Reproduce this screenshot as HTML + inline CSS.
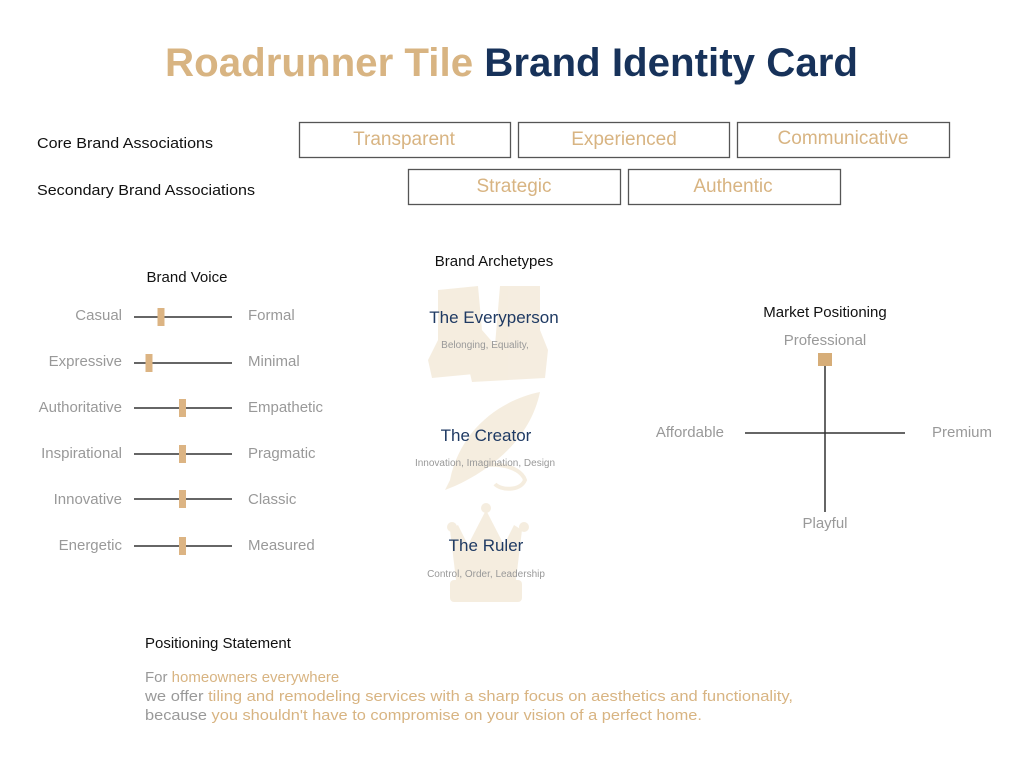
<!DOCTYPE html>
<html><head><meta charset="utf-8"><style>
html,body{margin:0;padding:0;background:#fff}
svg{display:block}
text{font-family:"Liberation Sans",sans-serif}
</style></head><body>
<svg width="1024" height="776" viewBox="0 0 1024 776" xmlns="http://www.w3.org/2000/svg">
<text x="165" y="76" font-size="40" font-weight="bold" textLength="693" lengthAdjust="spacingAndGlyphs"><tspan fill="#d8b482">Roadrunner Tile </tspan><tspan fill="#17325a">Brand Identity Card</tspan></text>

<text x="37" y="148" font-size="15" fill="#111" textLength="176" lengthAdjust="spacingAndGlyphs">Core Brand Associations</text>
<text x="37" y="195" font-size="15" fill="#111" textLength="218" lengthAdjust="spacingAndGlyphs">Secondary Brand Associations</text>
<g fill="none" stroke="#555" stroke-width="1.3">
<rect x="299.5" y="122.5" width="211" height="35"/>
<rect x="518.5" y="122.5" width="211" height="35"/>
<rect x="737.5" y="122.5" width="212" height="35"/>
<rect x="408.5" y="169.5" width="212" height="35"/>
<rect x="628.5" y="169.5" width="212" height="35"/>
</g>
<g fill="#d8b482" font-size="19" text-anchor="middle">
<text x="404" y="145">Transparent</text>
<text x="624" y="145">Experienced</text>
<text x="843" y="144">Communicative</text>
<text x="514" y="192">Strategic</text>
<text x="733" y="192">Authentic</text>
</g>

<text x="187" y="282" font-size="15" fill="#111" text-anchor="middle">Brand Voice</text>
<g font-size="15" fill="#999">
<g text-anchor="end">
<text x="122" y="320">Casual</text>
<text x="122" y="366">Expressive</text>
<text x="122" y="412">Authoritative</text>
<text x="122" y="458">Inspirational</text>
<text x="122" y="504">Innovative</text>
<text x="122" y="550">Energetic</text>
</g>
<text x="248" y="320">Formal</text>
<text x="248" y="366">Minimal</text>
<text x="248" y="412">Empathetic</text>
<text x="248" y="458">Pragmatic</text>
<text x="248" y="504">Classic</text>
<text x="248" y="550">Measured</text>
</g>
<g stroke="#333" stroke-width="1.5">
<line x1="134" y1="317" x2="232" y2="317"/>
<line x1="134" y1="363" x2="232" y2="363"/>
<line x1="134" y1="408" x2="232" y2="408"/>
<line x1="134" y1="454" x2="232" y2="454"/>
<line x1="134" y1="499" x2="232" y2="499"/>
<line x1="134" y1="546" x2="232" y2="546"/>
</g>
<g fill="#dcb483">
<rect x="157.5" y="308" width="7" height="18"/>
<rect x="145.5" y="354" width="7" height="18"/>
<rect x="179" y="399" width="7" height="18"/>
<rect x="179" y="445" width="7" height="18"/>
<rect x="179" y="490" width="7" height="18"/>
<rect x="179" y="537" width="7" height="18"/>
</g>

<text x="494" y="266" font-size="15" fill="#111" text-anchor="middle">Brand Archetypes</text>
<g fill="#f0e4cf" opacity="0.65">
<path d="M438 290 L478 286 L482 330 L495 345 L495 372 L432 378 L428 360 L438 340 Z"/>
<path d="M500 286 L540 286 L540 330 L548 350 L545 378 L472 382 L468 365 L495 345 Z"/>
<path d="M540 392 C500 400 460 430 450 480 L445 490 L455 486 C490 470 530 440 540 392 Z"/>
<path d="M470 470 C490 460 520 465 525 480 C520 492 500 490 495 484" fill="none" stroke="#f0e4cf" stroke-width="4"/>
<path d="M450 530 L458 525 L468 545 L486 510 L504 545 L514 525 L522 530 L516 580 L456 580 Z"/>
<rect x="450" y="580" width="72" height="22" rx="4"/>
<circle cx="452" cy="527" r="5"/><circle cx="486" cy="508" r="5"/><circle cx="524" cy="527" r="5"/>
</g>
<g text-anchor="middle">
<text x="494" y="323" font-size="17" fill="#1f3a63">The Everyperson</text>
<text x="485" y="348" font-size="10" fill="#999">Belonging, Equality,</text>
<text x="486" y="441" font-size="17" fill="#1f3a63">The Creator</text>
<text x="485" y="466" font-size="10" fill="#999">Innovation, Imagination, Design</text>
<text x="486" y="551" font-size="17" fill="#1f3a63">The Ruler</text>
<text x="486" y="577" font-size="10" fill="#999">Control, Order, Leadership</text>
</g>

<text x="825" y="317" font-size="15" fill="#111" text-anchor="middle">Market Positioning</text>
<g font-size="15" fill="#999">
<text x="825" y="345" text-anchor="middle">Professional</text>
<text x="825" y="528" text-anchor="middle">Playful</text>
<text x="724" y="437" text-anchor="end">Affordable</text>
<text x="932" y="437">Premium</text>
</g>
<g stroke="#333" stroke-width="1.5">
<line x1="825" y1="366" x2="825" y2="512"/>
<line x1="745" y1="433" x2="905" y2="433"/>
</g>
<rect x="818" y="353" width="14" height="13" fill="#d6ad78"/>

<text x="145" y="648" font-size="15" fill="#111">Positioning Statement</text>
<g font-size="15">
<text x="145" y="682"><tspan fill="#999">For </tspan><tspan fill="#d8b482">homeowners everywhere</tspan></text>
<text x="145" y="701" textLength="648" lengthAdjust="spacingAndGlyphs"><tspan fill="#999">we offer </tspan><tspan fill="#d8b482">tiling and remodeling services with a sharp focus on aesthetics and functionality,</tspan></text>
<text x="145" y="720" textLength="557" lengthAdjust="spacingAndGlyphs"><tspan fill="#999">because </tspan><tspan fill="#d8b482">you shouldn't have to compromise on your vision of a perfect home.</tspan></text>
</g>
</svg>
</body></html>
